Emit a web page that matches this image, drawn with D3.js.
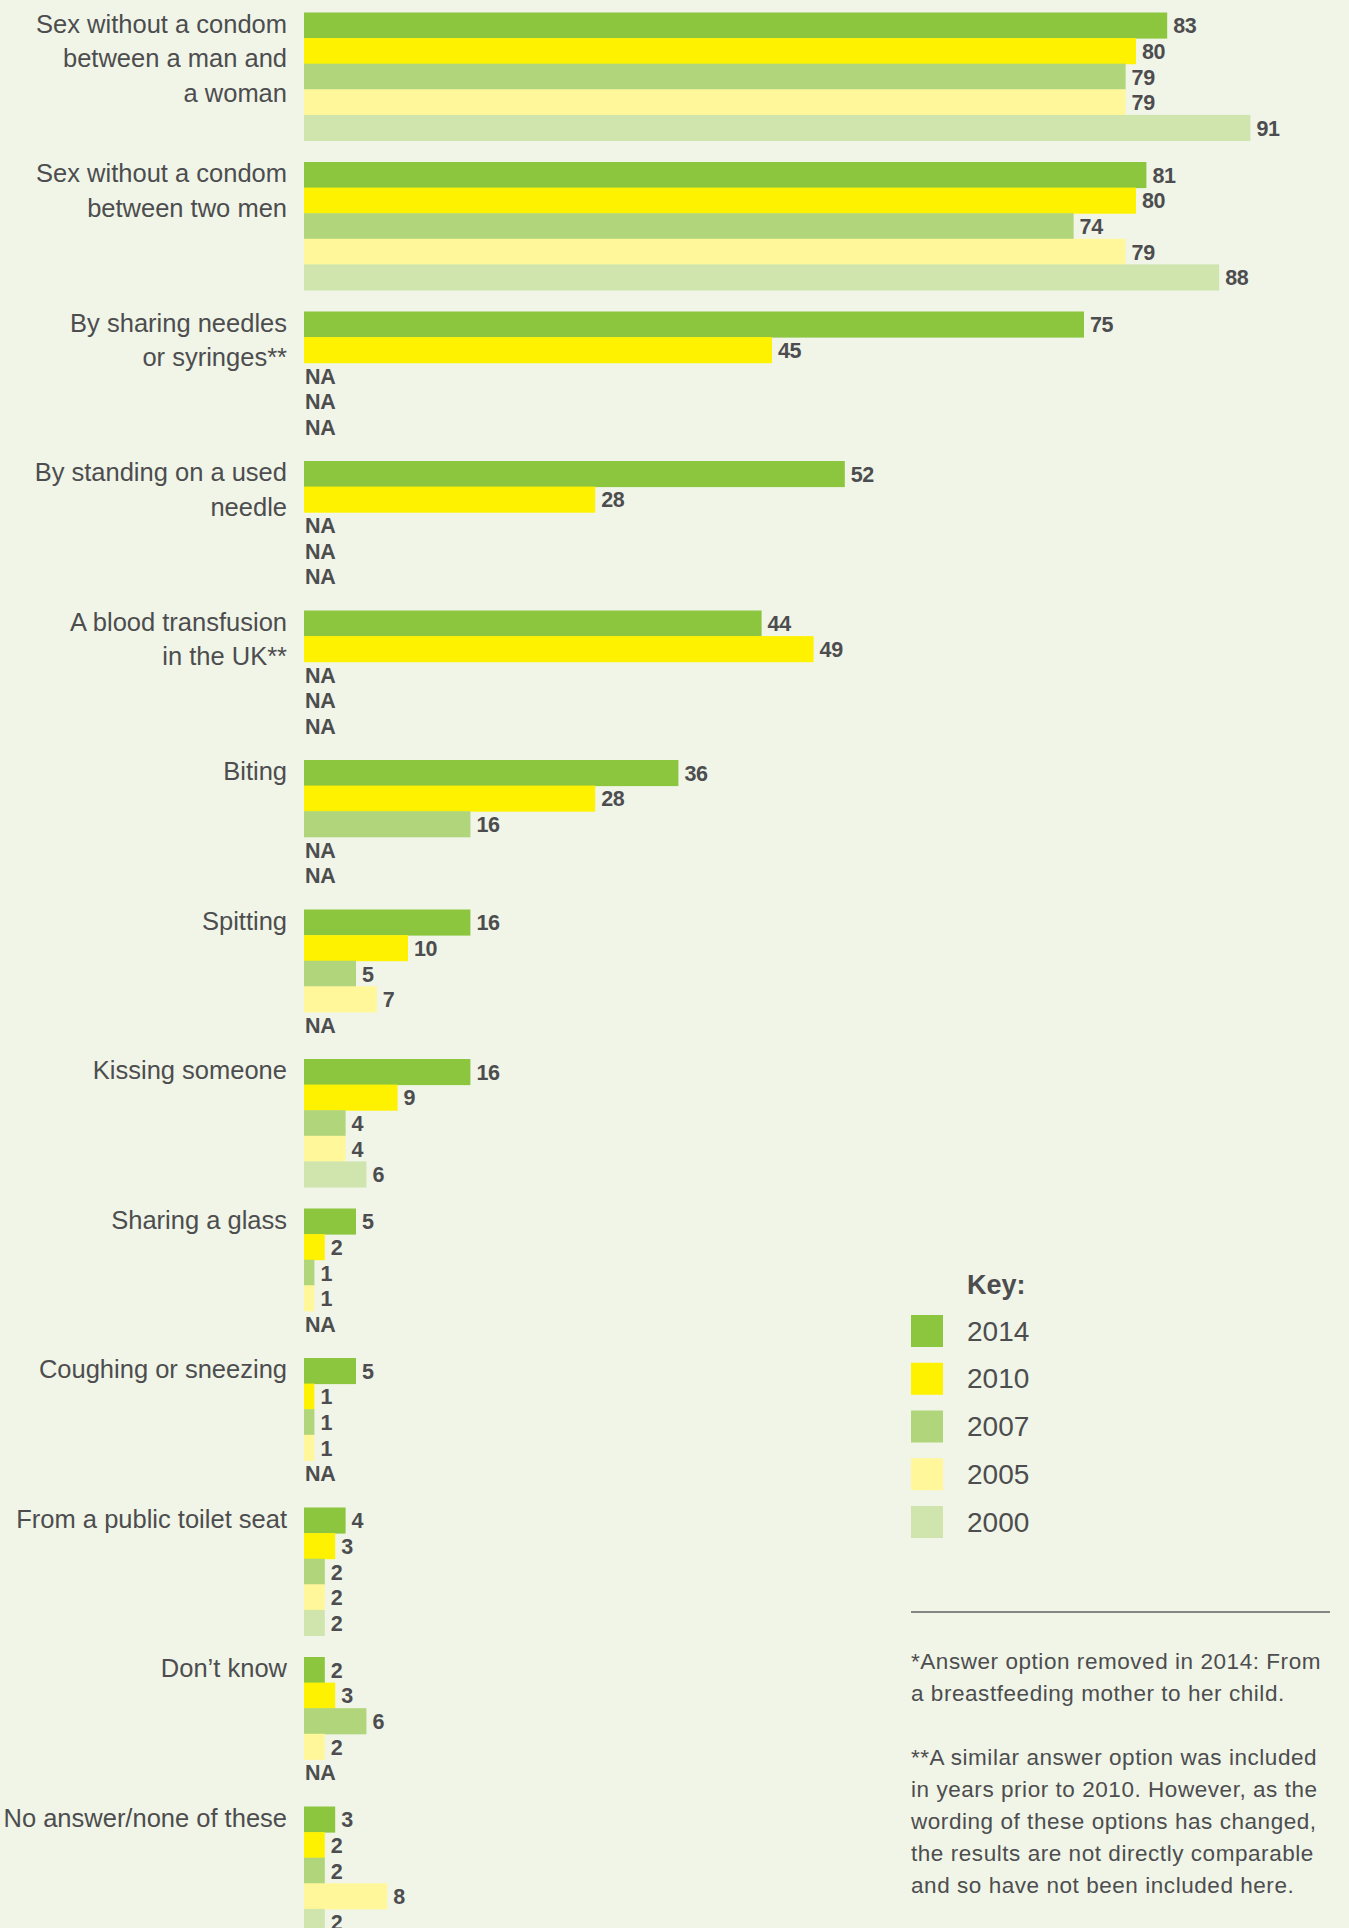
<!DOCTYPE html>
<html><head><meta charset="utf-8">
<script src="https://cdn.jsdelivr.net/npm/d3@7"></script>
<style>
html,body{margin:0;padding:0;background:#f0f5e7;}
svg text{font-family:"Liberation Sans",Arial,Helvetica,sans-serif;}
</style></head><body>
<svg id="chart" width="1349" height="1928"></svg>
<script>
const categories = [
  "Sex without a condom between a man and a woman",
  "Sex without a condom between two men",
  "By sharing needles or syringes**",
  "By standing on a used needle",
  "A blood transfusion in the UK**",
  "Biting",
  "Spitting",
  "Kissing someone",
  "Sharing a glass",
  "Coughing or sneezing",
  "From a public toilet seat",
  "Don\u2019t know",
  "No answer/none of these"
];
const categoryLines = [
  ["Sex without a condom", "between a man and", "a woman"],
  ["Sex without a condom", "between two men"],
  ["By sharing needles", "or syringes**"],
  ["By standing on a used", "needle"],
  ["A blood transfusion", "in the UK**"],
  ["Biting"],
  ["Spitting"],
  ["Kissing someone"],
  ["Sharing a glass"],
  ["Coughing or sneezing"],
  ["From a public toilet seat"],
  ["Don\u2019t know"],
  ["No answer/none of these"]
];
const years = ["2014", "2010", "2007", "2005", "2000"];
const values2014 = [83, 81, 75, 52, 44, 36, 16, 16, 5, 5, 4, 2, 3];
const values2010 = [80, 80, 45, 28, 49, 28, 10, 9, 2, 1, 3, 3, 2];
const values2007 = [79, 74, null, null, null, 16, 5, 4, 1, 1, 2, 6, 2];
const values2005 = [79, 79, null, null, null, null, 7, 4, 1, 1, 2, 2, 8];
const values2000 = [91, 88, null, null, null, null, null, 6, null, null, 2, null, 2];
const yearColors = ["#8cc63f", "#fff200", "#b0d57a", "#fff799", "#d0e5ae"];
const footnote1 = ["*Answer option removed in 2014: From", "a breastfeeding mother to her child."];
const footnote2 = ["**A similar answer option was included", "in years prior to 2010. However, as the",
  "wording of these options has changed,", "the results are not directly comparable",
  "and so have not been included here."];

const seriesValues = [values2014, values2010, values2007, values2005, values2000];
const rows = categories.map((c, i) => ({
  category: c,
  lines: categoryLines[i],
  bars: years.map((y, j) => ({year: y, value: seriesValues[j][i]}))
}));

const textColor = "#4d4d4f";
const svg = d3.select("#chart");

const x = d3.scaleLinear().domain([0, 100]).range([304, 1344]);
const pIn = 21.5 / 149.5;
const y0 = d3.scaleBand().domain(categories)
  .range([12.5, 12.5 + 149.5 * (categories.length - pIn)])
  .paddingInner(pIn).paddingOuter(0);
const y1 = d3.scaleBand().domain(years).range([0, y0.bandwidth()]);
const color = d3.scaleOrdinal().domain(years).range(yearColors);

const g = svg.selectAll("g.group").data(rows).join("g")
  .attr("class", "group")
  .attr("transform", d => `translate(0,${y0(d.category)})`);

// category labels
g.append("text")
  .attr("text-anchor", "end")
  .attr("fill", textColor)
  .style("font-size", "25.5px")
  .selectAll("tspan").data(d => d.lines).join("tspan")
  .attr("x", 287)
  .attr("y", (d, i) => 20 + i * 34.5)
  .text(d => d);

// bars
g.selectAll("rect").data(d => d.bars.filter(b => b.value != null)).join("rect")
  .attr("x", x(0))
  .attr("y", d => y1(d.year))
  .attr("width", d => x(d.value) - x(0))
  .attr("height", y1.bandwidth() + 0.5)
  .attr("fill", d => color(d.year));

// value labels
g.selectAll("text.val").data(d => d.bars).join("text")
  .attr("class", "val")
  .attr("x", d => d.value == null ? x(0) + 1 : x(d.value) + 6)
  .attr("y", d => y1(d.year) + y1.bandwidth() / 2 + 1)
  .attr("dominant-baseline", "central")
  .attr("fill", textColor)
  .style("font-size", "21.5px")
  .style("font-weight", "bold")
  .style("letter-spacing", "-0.4px")
  .text(d => d.value == null ? "NA" : d.value);

// legend
const legend = svg.append("g");
legend.append("text")
  .attr("x", 967).attr("y", 1294)
  .attr("fill", textColor)
  .style("font-size", "27px").style("font-weight", "bold")
  .text("Key:");
const ly = d3.scalePoint().domain(years).range([1331, 1522]);
const li = legend.selectAll("g.item").data(years).join("g").attr("class", "item");
li.append("rect")
  .attr("x", 911).attr("y", d => ly(d) - 16)
  .attr("width", 32).attr("height", 32)
  .attr("fill", d => color(d));
li.append("text")
  .attr("x", 967).attr("y", d => ly(d))
  .attr("dominant-baseline", "central")
  .attr("fill", textColor)
  .style("font-size", "28px")
  .text(d => d);

svg.append("line")
  .attr("x1", 911).attr("x2", 1330)
  .attr("y1", 1612).attr("y2", 1612)
  .attr("stroke", "#5f6062").attr("stroke-width", 1.5);

const fn = svg.append("text").attr("fill", textColor)
  .style("font-size", "22.5px").style("letter-spacing", "0.55px");
fn.selectAll("tspan.a").data(footnote1).join("tspan").attr("class", "a")
  .attr("x", 911).attr("y", (d, i) => 1669 + i * 32).text(d => d);
fn.selectAll("tspan.b").data(footnote2).join("tspan").attr("class", "b")
  .attr("x", 911).attr("y", (d, i) => 1765 + i * 32).text(d => d);
</script>
</body></html>
